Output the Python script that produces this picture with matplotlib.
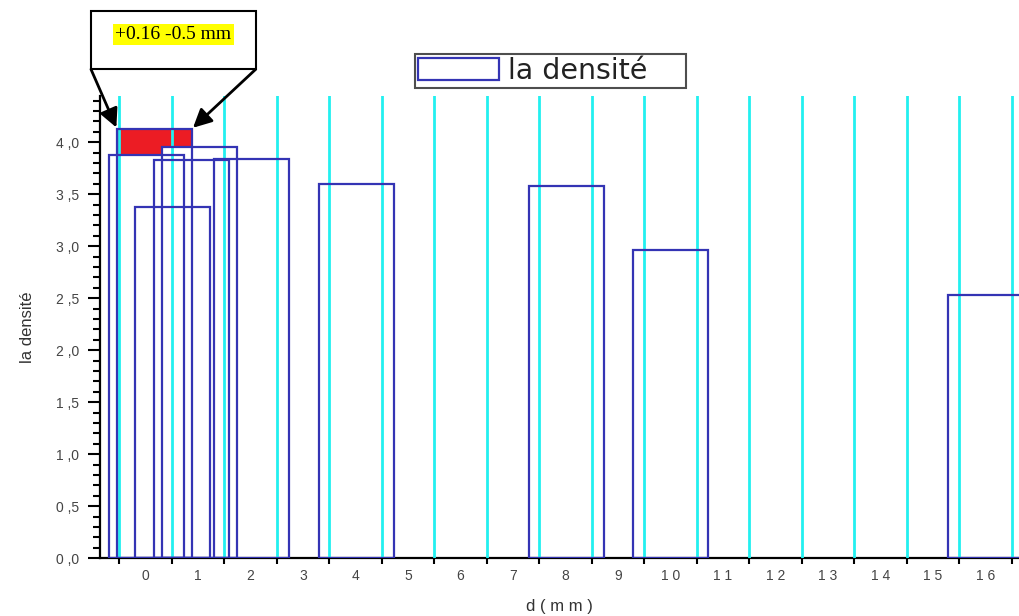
import numpy as np
import matplotlib
matplotlib.use("Agg")
import matplotlib.pyplot as plt
from matplotlib.patches import Rectangle
from matplotlib.ticker import FixedLocator, FixedFormatter, MultipleLocator, NullFormatter

plt.rcParams['font.family'] = ['Liberation Sans', 'DejaVu Sans']

# bar centres (mm) and densities
d_mm = [0.02, 0.17, 0.51, 0.88, 1.02, 2.02, 4.02, 8.02, 10.0, 16.0]
densite = [3.875, 4.13, 3.38, 3.83, 3.95, 3.84, 3.60, 3.58, 2.965, 2.53]
bar_w = 1.43
highlight = 1  # the "+0.16 -0.5 mm" bar

x_cats = list(range(17))
x_labels = [" ".join(str(c)) for c in x_cats]
y_ticks = [0.0, 0.5, 1.0, 1.5, 2.0, 2.5, 3.0, 3.5, 4.0]
y_labels = [f"{v:.1f}".replace(".", " ,") for v in y_ticks]

blue = '#3434B4'
red = '#EC1C24'

fig = plt.figure(figsize=(10.19, 6.16), dpi=100)
ax = fig.add_axes([0.0981, 0.0937, 0.9019, 0.7505])

bars = ax.bar(d_mm, densite, width=bar_w, fill=False, edgecolor=blue,
              linewidth=1.6, zorder=3, label='la densité    ')

# red part of the highlighted bar = what sticks out above the other bars
d = np.array(d_mm)
h = np.array(densite)
x0 = d[highlight] - bar_w / 2
x1 = d[highlight] + bar_w / 2
xs = np.linspace(x0, x1, 600)
env = np.zeros_like(xs)
for i in range(len(d)):
    if i == highlight:
        continue
    inside = (xs >= d[i] - bar_w / 2) & (xs <= d[i] + bar_w / 2)
    env = np.where(inside, np.maximum(env, h[i]), env)
ax.fill_between(xs, env, h[highlight], color=red, linewidth=0, zorder=1)

# x axis: marks between the classes, labels in the middle
edges = [c - 0.5 for c in x_cats] + [x_cats[-1] + 0.5]
ax.xaxis.set_major_locator(FixedLocator(edges))
ax.xaxis.set_major_formatter(NullFormatter())
ax.xaxis.set_minor_locator(FixedLocator(x_cats))
ax.xaxis.set_minor_formatter(FixedFormatter(x_labels))
ax.tick_params(axis='x', which='major', length=4, width=1.5, direction='out')
ax.tick_params(axis='x', which='minor', length=0, pad=8, labelsize=10, labelcolor='#444444')
ax.xaxis.grid(True, which='major', color='#22F0F0', linewidth=2)
ax.set_axisbelow(False)

ax.set_yticks(y_ticks)
ax.set_yticklabels(y_labels)
ax.yaxis.set_minor_locator(MultipleLocator(0.1))
ax.tick_params(axis='y', which='major', length=9, width=1.5, pad=6, labelsize=10, labelcolor='#444444')
ax.tick_params(axis='y', which='minor', length=5, width=1.5)

ax.set_xlim(-0.868, 16.64)
ax.set_ylim(0, 4.445)
for s in ['top', 'right']:
    ax.spines[s].set_visible(False)
for s in ['left', 'bottom']:
    ax.spines[s].set_linewidth(1.6)

ax.set_xlabel('d ( m m )', fontsize=12, color='#333333', labelpad=11)
ax.set_ylabel('la densité', fontsize=12, color='#333333', labelpad=15)

leg = ax.legend(loc='upper left', bbox_to_anchor=(415 / 1019, 1 - 54.3 / 616),
                bbox_transform=fig.transFigure, borderaxespad=0,
                prop={'family': 'DejaVu Sans', 'size': 20.5},
                fancybox=False, edgecolor='#222222', handlelength=2.85,
                handleheight=0.8, handletextpad=0.3, borderpad=0.1)
leg.get_frame().set_linewidth(1.5)
for t in leg.get_texts():
    t.set_color('#222222')

# callout box with the two arrows
fig.patches.append(Rectangle((91 / 1019, 1 - 69.3 / 616), 164.7 / 1019, 58.3 / 616,
                             transform=fig.transFigure, facecolor='white',
                             edgecolor='black', linewidth=1.5))
fig.text(173.4 / 1019, 1 - 34.4 / 616, '+0.16 -0.5 mm', family='Liberation Serif',
         fontsize=14, ha='center', va='center',
         bbox=dict(facecolor='yellow', edgecolor='none', pad=1.5))
for xy, corner in [((x0, h[highlight]), (91 / 1019, 1 - 69.3 / 616)),
                   ((x1, h[highlight]), (255.7 / 1019, 1 - 69.3 / 616))]:
    ax.annotate('', xy=xy, xycoords='data', xytext=corner, textcoords='figure fraction',
                annotation_clip=False,
                arrowprops=dict(arrowstyle='-|>', color='black', lw=2,
                                mutation_scale=28, shrinkA=0, shrinkB=1))

fig.savefig('out.png', dpi=100)
